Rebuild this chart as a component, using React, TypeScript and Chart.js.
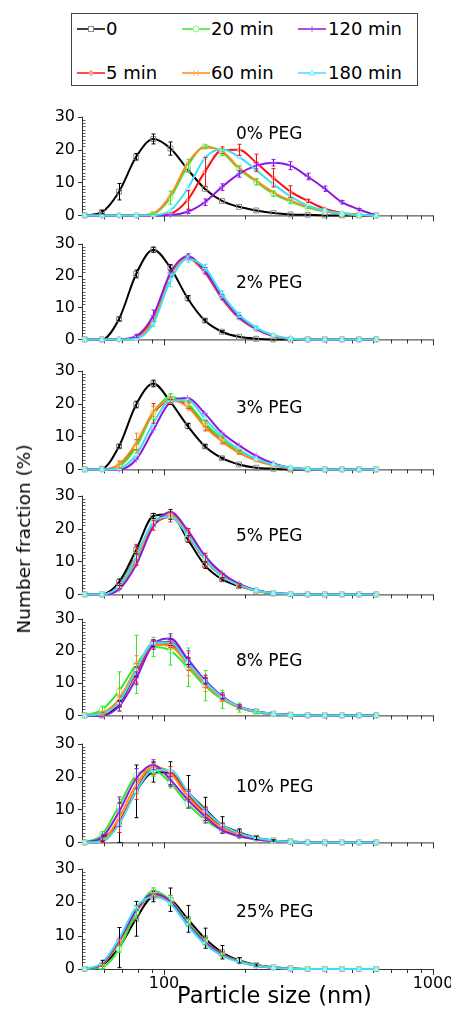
import React, { useEffect, useRef } from "react";
import { Chart, registerables } from "chart.js";
Chart.register(...registerables);

const FONT = "'DejaVu Sans', sans-serif";

// ---- x categories (particle size bins, nm) ----
const sizes = [50.75, 58.77, 68.06, 78.82, 91.28, 105.7, 122.4, 141.8, 164.2, 190.1, 220.2, 255.0, 295.3, 342.0, 396.1, 458.7, 531.2, 615.1];
const seriesNames = ["0", "5 min", "20 min", "60 min", "120 min", "180 min"];
const panelLabels = ["0% PEG", "2% PEG", "3% PEG", "5% PEG", "8% PEG", "10% PEG", "25% PEG"];
const yTickValues = [0, 10, 20, 30];
const xLabelTicks = [100, 1000];
const xMinorTicks = [60, 70, 80, 90, 200, 300, 400, 500, 600, 700, 800, 900];
const xTitle = "Particle size (nm)";
const yTitle = "Number fraction (%)";

// ---- 0% PEG ----
const peg0_t0 = [0, 1.0, 7.2, 17.8, 23.2, 20.3, 14.0, 8.1, 4.4, 2.6, 1.5, 0.7, 0.3, 0.2, 0, 0, 0, 0];
const peg0_t5 = [0, 0, 0, 0, 0, 0.5, 4.7, 13.2, 19.8, 19.9, 16.0, 11.4, 7.2, 4.4, 2.0, 0.7, 0.2, 0];
const peg0_t20 = [0, 0, 0, 0, 0.5, 5.4, 15.0, 20.9, 19.2, 14.1, 10.2, 6.6, 4.2, 2.4, 1.2, 0.5, 0.2, 0];
const peg0_t60 = [0, 0, 0, 0, 0.6, 6.0, 15.8, 20.6, 19.5, 14.5, 10.5, 7.0, 4.5, 2.6, 1.3, 0.5, 0.2, 0];
const peg0_t120 = [0, 0, 0, 0, 0, 0.1, 1.1, 4.0, 8.6, 12.6, 15.1, 16.0, 15.1, 11.8, 8.1, 4.0, 1.8, 0];
const peg0_t180 = [0, 0, 0, 0, 0.1, 1.5, 8.1, 17.4, 20.1, 17.8, 13.7, 9.5, 5.8, 3.0, 1.5, 0.6, 0.2, 0];
const peg0_t0_err = [0, 0.5, 2.5, 1, 1.5, 2, 0, 0, 0, 0, 0, 0, 0, 0, 0, 0, 0, 0];
const peg0_t5_err = [0, 0, 0, 0, 0, 0, 2.8, 4.4, 1, 1.7, 2.6, 2.8, 1.8, 0.5, 0, 0, 0, 0];
const peg0_t20_err = [0, 0, 0, 0, 0.3, 2, 2, 0.5, 1, 1, 1, 0.8, 0.5, 0.3, 0, 0, 0, 0];
const peg0_t120_err = [0, 0, 0, 0, 0, 0, 0.5, 1, 1, 1, 1, 1, 1.2, 1, 0.8, 0.5, 0.3, 0];

// ---- 2% PEG ----
const peg2_t0 = [0, 0, 6.4, 20.5, 28.1, 22.4, 12.9, 5.9, 2.4, 0.8, 0.2, 0, 0, 0, 0, 0, 0, 0];
const peg2_t5 = [0, 0, 0, 0.7, 6.5, 20.5, 25.5, 21.0, 12.8, 6.7, 3.2, 1.0, 0.2, 0, 0, 0, 0, 0];
const peg2_t20 = [0, 0, 0, 0.4, 5.7, 20.0, 25.7, 21.7, 13.3, 7.0, 3.3, 1.1, 0.2, 0, 0, 0, 0, 0];
const peg2_t60 = [0, 0, 0, 0.5, 6.0, 20.2, 25.6, 21.4, 13.0, 6.9, 3.2, 1.0, 0.2, 0, 0, 0, 0, 0];
const peg2_t120 = [0, 0, 0, 1.0, 7.5, 20.8, 26.0, 21.5, 13.2, 7.0, 3.3, 1.1, 0.2, 0, 0, 0, 0, 0];
const peg2_t180 = [0, 0, 0, 0.3, 5.0, 18.5, 25.2, 22.5, 14.2, 7.7, 3.7, 1.3, 0.3, 0, 0, 0, 0, 0];
const peg2_t0_err = [0, 0, 0.6, 1.2, 0.8, 1, 0.8, 0.5, 0.3, 0, 0, 0, 0, 0, 0, 0, 0, 0];
const peg2_t120_err = [0, 0, 0, 0.5, 1.7, 1, 0.8, 1, 0.8, 0.5, 0, 0, 0, 0, 0, 0, 0, 0];
const peg2_t180_err = [0, 0, 0, 0, 1, 2, 1, 1, 1, 0.8, 0.5, 0, 0, 0, 0, 0, 0, 0];

// ---- 3% PEG ----
const peg3_t0 = [0, 0.2, 7.0, 19.7, 26.1, 20.5, 13.2, 7.0, 3.4, 1.5, 0.5, 0.2, 0, 0, 0, 0, 0, 0];
const peg3_t5 = [0, 0, 1.5, 7.5, 17.0, 21.0, 19.5, 13.2, 8.8, 5.2, 2.8, 1.3, 0.4, 0.1, 0, 0, 0, 0];
const peg3_t20 = [0, 0, 0.9, 6.8, 17.2, 22.0, 20.0, 14.0, 9.3, 5.5, 3.0, 1.5, 0.4, 0.1, 0, 0, 0, 0];
const peg3_t60 = [0, 0, 1.5, 8.0, 17.5, 21.0, 19.0, 13.0, 8.5, 5.0, 2.7, 1.2, 0.4, 0.1, 0, 0, 0, 0];
const peg3_t120 = [0, 0, 0, 3.0, 12.0, 20.5, 21.7, 17.0, 11.1, 7.3, 4.1, 1.8, 0.5, 0.1, 0, 0, 0, 0];
const peg3_t180 = [0, 0, 0.3, 4.5, 14.0, 21.0, 21.0, 15.5, 10.0, 6.0, 3.2, 1.5, 0.5, 0.1, 0, 0, 0, 0];
const peg3_t0_err = [0, 0, 0.5, 1, 1, 0.8, 0.8, 0.5, 0.3, 0, 0, 0, 0, 0, 0, 0, 0, 0];
const peg3_t5_err = [0, 0, 1, 1.5, 3, 1, 1, 1.5, 1, 0.5, 0, 0, 0, 0, 0, 0, 0, 0];
const peg3_t20_err = [0, 0, 0.5, 1, 2, 1, 1, 1, 1, 0.5, 0, 0, 0, 0, 0, 0, 0, 0];
const peg3_t60_err = [0, 0, 1, 3, 1.5, 1, 1, 1, 0.8, 0.5, 0, 0, 0, 0, 0, 0, 0, 0];

// ---- 5% PEG ----
const peg5_t0 = [0, 0, 3.7, 13.5, 23.8, 24.3, 16.8, 8.9, 4.6, 2.5, 1.1, 0.3, 0.1, 0, 0, 0, 0, 0];
const peg5_t5 = [0, 0, 2.5, 12.0, 21.0, 23.5, 18.0, 10.5, 5.5, 2.8, 1.1, 0.4, 0.1, 0, 0, 0, 0, 0];
const peg5_t20 = [0, 0, 2.0, 10.5, 21.5, 24.5, 18.8, 11.5, 6.0, 3.0, 1.2, 0.4, 0.1, 0, 0, 0, 0, 0];
const peg5_t60 = [0, 0, 2.2, 11.0, 21.0, 24.0, 18.5, 11.0, 5.8, 2.8, 1.1, 0.4, 0.1, 0, 0, 0, 0, 0];
const peg5_t120 = [0, 0, 1.5, 9.0, 20.6, 25.0, 19.5, 11.8, 6.5, 3.2, 1.3, 0.4, 0.1, 0, 0, 0, 0, 0];
const peg5_t180 = [0, 0, 2.5, 11.5, 22.0, 23.5, 18.0, 10.8, 5.5, 2.8, 1.2, 0.4, 0.1, 0, 0, 0, 0, 0];
const peg5_t0_err = [0, 0, 1, 1.2, 0.8, 1.5, 1, 1, 0.5, 0.3, 0, 0, 0, 0, 0, 0, 0, 0];
const peg5_t5_err = [0, 0, 0.8, 3.2, 1.5, 1.5, 2, 2, 0.8, 0.5, 0, 0, 0, 0, 0, 0, 0, 0];

// ---- 8% PEG ----
const peg8_t0 = [0, 0, 3.6, 13.5, 22.4, 22.7, 16.8, 10.8, 5.8, 2.6, 1.2, 0.5, 0.2, 0, 0, 0, 0, 0];
const peg8_t5 = [0, 0.5, 4.5, 13.0, 22.0, 22.0, 16.0, 10.2, 5.5, 2.5, 1.1, 0.4, 0.1, 0, 0, 0, 0, 0];
const peg8_t20 = [0, 1.7, 7.5, 15.8, 21.2, 20.1, 14.9, 9.2, 5.0, 2.4, 1.0, 0.4, 0.1, 0, 0, 0, 0, 0];
const peg8_t60 = [0, 0.8, 5.0, 14.5, 22.0, 21.5, 15.8, 9.8, 5.3, 2.5, 1.0, 0.4, 0.1, 0, 0, 0, 0, 0];
const peg8_t120 = [0, 0, 2.8, 11.5, 22.0, 23.8, 17.5, 11.0, 6.0, 2.8, 1.3, 0.5, 0.1, 0, 0, 0, 0, 0];
const peg8_t180 = [0, 0.5, 4.0, 14.0, 22.5, 22.5, 16.5, 10.5, 5.7, 2.7, 1.2, 0.5, 0.1, 0, 0, 0, 0, 0];
const peg8_t0_err = [0, 0, 1, 1.5, 1, 1, 1, 0.8, 0.5, 0.3, 0, 0, 0, 0, 0, 0, 0, 0];
const peg8_t5_err = [0, 0.3, 1.5, 3, 1, 1, 2, 1.5, 1, 0.5, 0, 0, 0, 0, 0, 0, 0, 0];
const peg8_t20_err = [0, 1.2, 6, 9, 3, 4.5, 6, 4.7, 2.8, 1.4, 0.3, 0, 0, 0, 0, 0, 0, 0];
const peg8_t60_err = [0, 0.5, 3.5, 4, 1.5, 1, 3.5, 2.4, 1, 0.5, 0, 0, 0, 0, 0, 0, 0, 0];
const peg8_t120_err = [0, 0, 1.5, 2, 1.5, 1.5, 2.5, 1.5, 1, 0.5, 0, 0, 0, 0, 0, 0, 0, 0];

// ---- 10% PEG ----
const peg10_t0 = [0, 1.1, 6.0, 15.5, 21.3, 21.0, 15.3, 10.2, 5.3, 3.1, 1.4, 0.6, 0.3, 0, 0, 0, 0, 0];
const peg10_t5 = [0, 0.3, 6.0, 16.0, 22.5, 21.5, 14.5, 9.0, 4.8, 2.4, 1.1, 0.5, 0.1, 0, 0, 0, 0, 0];
const peg10_t20 = [0, 2.3, 11.1, 20.4, 22.0, 18.0, 11.8, 6.9, 3.7, 1.9, 0.9, 0.4, 0.1, 0, 0, 0, 0, 0];
const peg10_t60 = [0, 0.5, 7.5, 17.5, 23.0, 21.0, 14.0, 8.5, 4.5, 2.2, 1.0, 0.4, 0.1, 0, 0, 0, 0, 0];
const peg10_t120 = [0, 1.5, 9.3, 19.4, 23.6, 19.0, 13.0, 7.9, 3.7, 1.9, 0.9, 0.4, 0.1, 0, 0, 0, 0, 0];
const peg10_t180 = [0, 0.3, 5.5, 15.5, 22.0, 22.0, 15.5, 9.8, 5.3, 2.8, 1.4, 0.6, 0.2, 0, 0, 0, 0, 0];
const peg10_t0_err = [0, 0.8, 6, 8, 3, 3.5, 5, 3.5, 2.5, 1, 0.5, 0.2, 0, 0, 0, 0, 0, 0];
const peg10_t5_err = [0, 0.3, 3, 3, 2, 1.5, 1.5, 1.5, 1, 0.5, 0, 0, 0, 0, 0, 0, 0, 0];
const peg10_t20_err = [0, 1, 2, 2, 2, 1.5, 1.5, 1, 0.8, 0.4, 0, 0, 0, 0, 0, 0, 0, 0];
const peg10_t120_err = [0, 1, 4.5, 3, 1.5, 2, 2.5, 2, 1, 0.5, 0, 0, 0, 0, 0, 0, 0, 0];

// ---- 25% PEG ----
const peg25_t0 = [0, 1.1, 6.4, 15.0, 21.6, 20.7, 15.0, 9.2, 5.0, 2.6, 1.2, 0.5, 0.2, 0, 0, 0, 0, 0];
const peg25_t5 = [0, 1.2, 8.0, 17.0, 22.5, 20.5, 14.0, 8.3, 4.5, 2.3, 1.1, 0.5, 0.1, 0, 0, 0, 0, 0];
const peg25_t20 = [0, 0.5, 6.0, 16.9, 23.3, 20.5, 14.0, 8.3, 4.3, 2.4, 1.1, 0.5, 0.2, 0, 0, 0, 0, 0];
const peg25_t60 = [0, 1.3, 8.2, 17.5, 22.0, 20.0, 13.5, 8.0, 4.3, 2.2, 1.0, 0.4, 0.1, 0, 0, 0, 0, 0];
const peg25_t120 = [0, 1.5, 8.5, 17.5, 22.5, 20.2, 13.5, 8.0, 4.2, 2.2, 1.0, 0.4, 0.1, 0, 0, 0, 0, 0];
const peg25_t180 = [0, 1.8, 9.0, 18.5, 21.5, 19.5, 13.0, 7.5, 4.0, 2.1, 1.0, 0.4, 0.1, 0, 0, 0, 0, 0];
const peg25_t0_err = [0, 1.5, 6, 5.2, 1.5, 3.5, 4, 3, 2, 0.8, 0.3, 0, 0, 0, 0, 0, 0, 0];
const peg25_t5_err = [0, 0.5, 1, 2, 1, 1.5, 1, 1, 0.5, 0, 0, 0, 0, 0, 0, 0, 0, 0];
const peg25_t20_err = [0, 0.5, 1, 2, 1, 1.5, 1, 1, 0.5, 0, 0, 0, 0, 0, 0, 0, 0, 0];

const NONE: number[] | null = null;
const panelValues = [
  [peg0_t0, peg0_t5, peg0_t20, peg0_t60, peg0_t120, peg0_t180],
  [peg2_t0, peg2_t5, peg2_t20, peg2_t60, peg2_t120, peg2_t180],
  [peg3_t0, peg3_t5, peg3_t20, peg3_t60, peg3_t120, peg3_t180],
  [peg5_t0, peg5_t5, peg5_t20, peg5_t60, peg5_t120, peg5_t180],
  [peg8_t0, peg8_t5, peg8_t20, peg8_t60, peg8_t120, peg8_t180],
  [peg10_t0, peg10_t5, peg10_t20, peg10_t60, peg10_t120, peg10_t180],
  [peg25_t0, peg25_t5, peg25_t20, peg25_t60, peg25_t120, peg25_t180],
];
const panelErrors = [
  [peg0_t0_err, peg0_t5_err, peg0_t20_err, NONE, peg0_t120_err, NONE],
  [peg2_t0_err, NONE, NONE, NONE, peg2_t120_err, peg2_t180_err],
  [peg3_t0_err, peg3_t5_err, peg3_t20_err, peg3_t60_err, NONE, NONE],
  [peg5_t0_err, peg5_t5_err, NONE, NONE, NONE, NONE],
  [peg8_t0_err, peg8_t5_err, peg8_t20_err, peg8_t60_err, peg8_t120_err, NONE],
  [peg10_t0_err, peg10_t5_err, peg10_t20_err, NONE, peg10_t120_err, NONE],
  [peg25_t0_err, peg25_t5_err, peg25_t20_err, NONE, NONE, NONE],
];

// ---- styles ----
const STYLES = [
  { line: "#000000", style: "rect", r: 3.5, pb: "#8a8a8a", pf: "rgba(255,255,255,0)" },
  { line: "#ff1010", style: "rectRot", r: 2.2, pb: "#ff7070", pf: "#ffb0b0" },
  { line: "#2eea2e", style: "circle", r: 2.8, pb: "#7dff7d", pf: "#ffffff" },
  { line: "#ff8a1a", style: "crossRot", r: 3, pb: "#ffb060", pf: "#ffb060" },
  { line: "#8f18e0", style: "cross", r: 3, pb: "#b060ff", pf: "#b060ff" },
  { line: "#3ddff5", style: "triangle", r: 2.6, pb: "#7ff0ff", pf: "#c8f8ff" },
];

// ---- layout (pixels) ----
const W = 451;
const H = 1010;
const CANVAS_W = 480;
const PAD_TOP = 14;
const PLOT_LEFT = 83;
const PLOT_RIGHT = 433;
const PANEL_TOP = [113, 240, 367, 492, 615, 740, 865];
const PANEL_BOTTOM = [221, 345, 475, 600, 721, 848, 969];
const LABEL_X = 236;
const LABEL_BASELINE = [139, 288, 413, 541, 666, 792, 917];

const decor = {
  id: "decor",
  beforeDatasetsDraw(chart: any, _a: any, opts: any) {
    const { ctx, scales } = chart;
    const x = scales.x, y = scales.y;
    const x0 = x.getPixelForValue(50), x1 = x.getPixelForValue(1000);
    const y0 = y.getPixelForValue(0), y30 = y.getPixelForValue(30);
    ctx.save();
    ctx.strokeStyle = "#333";
    ctx.lineWidth = 1;
    ctx.beginPath();
    ctx.moveTo(x0, y0 + 0.5); ctx.lineTo(x1, y0 + 0.5);
    ctx.moveTo(Math.round(x0) - 0.5, y0 + 0.5); ctx.lineTo(Math.round(x0) - 0.5, y30);
    for (const v of xLabelTicks) {
      const px = Math.round(x.getPixelForValue(v)) + 0.5;
      ctx.moveTo(px, y0); ctx.lineTo(px, y0 + 6);
    }
    for (const v of xMinorTicks) {
      const px = Math.round(x.getPixelForValue(v)) + 0.5;
      ctx.moveTo(px, y0); ctx.lineTo(px, y0 + 4);
    }
    for (const v of yTickValues) {
      const py = Math.round(y.getPixelForValue(v)) + 0.5;
      ctx.moveTo(x0 - 5, py); ctx.lineTo(x0, py);
    }
    ctx.stroke();
    ctx.beginPath();
    ctx.lineWidth = 0.8;
    for (let v = 1; v < 30; v++) {
      if (v % 10 === 0) continue;
      const py = Math.round(y.getPixelForValue(v)) + 0.5;
      ctx.moveTo(x0, py); ctx.lineTo(x0 + 2.5, py);
    }
    ctx.stroke();
    ctx.restore();
  },
  afterDatasetsDraw(chart: any) {
    const { ctx, scales } = chart;
    const y = scales.y;
    ctx.save();
    ctx.lineWidth = 1;
    chart.data.datasets.forEach((ds: any, i: number) => {
      const errs = ds.errors as number[] | null;
      if (!errs) return;
      const meta = chart.getDatasetMeta(i);
      ctx.strokeStyle = ds.borderColor;
      ctx.beginPath();
      meta.data.forEach((pt: any, j: number) => {
        const e = errs[j];
        if (!e) return;
        const v = ds.data[j].y;
        const px = Math.round(pt.x) + 0.5;
        const yt = y.getPixelForValue(v + e);
        const yb = y.getPixelForValue(Math.max(0, v - e));
        ctx.moveTo(px, yt); ctx.lineTo(px, yb);
        ctx.moveTo(px - 2, yt); ctx.lineTo(px + 2, yt);
        ctx.moveTo(px - 2, yb); ctx.lineTo(px + 2, yb);
      });
      ctx.stroke();
    });
    ctx.restore();
  },
  afterDraw(chart: any, _a: any, opts: any) {
    const { ctx } = chart;
    ctx.save();
    ctx.fillStyle = "#000";
    ctx.textAlign = "left";
    ctx.textBaseline = "alphabetic";
    ctx.font = `17px ${FONT}`;
    ctx.fillText(opts.label, LABEL_X, opts.labelY);
    if (opts.isLast) {
      ctx.font = `22.5px ${FONT}`;
      ctx.textAlign = "center";
      ctx.fillText(xTitle, 274.5, opts.titleY);
    }
    ctx.restore();
  },
};

function Panel({ idx }: { idx: number }) {
  const ref = useRef<HTMLCanvasElement>(null);
  const isLast = idx === PANEL_TOP.length - 1;
  const top = PANEL_TOP[idx];
  const bottom = PANEL_BOTTOM[idx];
  const xh = isLast ? H - bottom : 12;
  const canvasTop = top - PAD_TOP;
  const ch = bottom - top + PAD_TOP + xh;

  useEffect(() => {
    const values = panelValues[idx];
    const errors = panelErrors[idx];
    const chart = new Chart(ref.current as HTMLCanvasElement, {
      type: "line",
      data: {
        datasets: seriesNames.map((name, k) => ({
          label: name,
          data: sizes.map((s, j) => ({ x: s, y: values[k][j] })),
          errors: errors[k],
          borderColor: STYLES[k].line,
          borderWidth: 2,
          pointStyle: STYLES[k].style as any,
          pointRadius: STYLES[k].r,
          pointBorderColor: STYLES[k].pb,
          pointBackgroundColor: STYLES[k].pf,
          pointBorderWidth: 1,
          cubicInterpolationMode: "monotone",
          fill: false,
          clip: false,
          order: seriesNames.length - 1 - k,
        })) as any,
      },
      options: {
        animation: false,
        responsive: false,
        events: [],
        layout: { padding: { top: PAD_TOP, left: 0, right: CANVAS_W - PLOT_RIGHT, bottom: 0 } },
        plugins: {
          legend: { display: false },
          tooltip: { enabled: false },
          decor: {
            label: panelLabels[idx],
            labelY: LABEL_BASELINE[idx] - canvasTop,
            isLast,
            titleY: 1003 - canvasTop,
          },
        } as any,
        scales: {
          x: {
            type: "logarithmic",
            min: 50,
            max: 1000,
            grid: { display: false, drawTicks: false },
            border: { display: false },
            afterBuildTicks: (s: any) => {
              s.ticks = xLabelTicks.map((v) => ({ value: v }));
            },
            afterFit: (s: any) => {
              s.height = xh;
            },
            ticks: {
              display: isLast,
              autoSkip: false,
              maxRotation: 0,
              padding: 5,
              color: "#000",
              font: { family: FONT, size: 16 },
              callback: (v: any) => String(v),
            },
          },
          y: {
            min: 0,
            max: 30,
            grid: { display: false, drawTicks: false },
            border: { display: false },
            afterBuildTicks: (s: any) => {
              s.ticks = yTickValues.map((v) => ({ value: v }));
            },
            afterFit: (s: any) => {
              s.width = PLOT_LEFT;
            },
            ticks: {
              padding: 8,
              color: "#000",
              font: { family: FONT, size: 16 },
              callback: (v: any) => String(v),
            },
          },
        },
      },
      plugins: [decor as any],
    });
    return () => chart.destroy();
  }, []);

  return (
    <canvas
      ref={ref}
      width={CANVAS_W}
      height={ch}
      style={{ position: "absolute", left: 0, top: canvasTop, width: CANVAS_W, height: ch }}
    />
  );
}

// ---- legend (HTML) ----
const LEGEND_ROWS = [[0, 2, 4], [1, 3, 5]];
const LEG_LINE_X = [77, 182, 298];
const LEG_TEXT_X = [106, 211, 328];
const LEG_ROW_Y = [29, 73];

function Marker({ k }: { k: number }) {
  const s = STYLES[k];
  const cx = 14, cy = 6;
  if (s.style === "rect") return <rect x={cx - 2.5} y={cy - 2.5} width={5} height={5} fill="#fff" stroke={s.pb} strokeWidth={1} />;
  if (s.style === "circle") return <circle cx={cx} cy={cy} r={3} fill="#fff" stroke={s.pb} strokeWidth={1} />;
  if (s.style === "rectRot") return <polygon points={`${cx},${cy - 2.5} ${cx + 2.5},${cy} ${cx},${cy + 2.5} ${cx - 2.5},${cy}`} fill={s.pf} stroke={s.pb} strokeWidth={1} />;
  if (s.style === "crossRot") return <path d={`M${cx - 3} ${cy - 3}L${cx + 3} ${cy + 3}M${cx + 3} ${cy - 3}L${cx - 3} ${cy + 3}`} stroke={s.pb} strokeWidth={1} />;
  if (s.style === "cross") return <path d={`M${cx} ${cy - 3}L${cx} ${cy + 3}`} stroke={s.pb} strokeWidth={1} />;
  return <polygon points={`${cx},${cy - 3} ${cx + 3},${cy + 2} ${cx - 3},${cy + 2}`} fill={s.pf} stroke={s.pb} strokeWidth={1} />;
}

function Legend() {
  const items: any[] = [];
  LEGEND_ROWS.forEach((row, r) =>
    row.forEach((k, c) => {
      items.push(
        <svg key={`m${k}`} width={30} height={12} style={{ position: "absolute", left: LEG_LINE_X[c], top: LEG_ROW_Y[r] - 6 }}>
          <line x1={0} y1={6} x2={28} y2={6} stroke={STYLES[k].line} strokeWidth={1.5} />
          <Marker k={k} />
        </svg>
      );
      items.push(
        <div key={`t${k}`} style={{ position: "absolute", left: LEG_TEXT_X[c], top: LEG_ROW_Y[r] - 9, height: 18, lineHeight: "18px", fontSize: 18, fontFamily: FONT, color: "#000", whiteSpace: "nowrap" }}>
          {seriesNames[k]}
        </div>
      );
    })
  );
  return (
    <>
      <div style={{ position: "absolute", left: 71, top: 13, width: 347, height: 73, border: "1px solid #444", boxSizing: "border-box" }} />
      {items}
    </>
  );
}

export default function App() {
  return (
    <div style={{ position: "absolute", left: 0, top: 0, width: W, height: H, overflow: "hidden", background: "#fff" }}>
      <Legend />
      {PANEL_TOP.map((_, i) => (
        <Panel key={i} idx={i} />
      ))}
      <div
        style={{
          position: "absolute",
          left: 24,
          top: 539,
          transform: "translate(-50%, -50%) rotate(-90deg)",
          whiteSpace: "nowrap",
          fontFamily: FONT,
          fontSize: 18.5,
          lineHeight: "20px",
          color: "#000",
        }}
      >
        {yTitle}
      </div>
    </div>
  );
}
